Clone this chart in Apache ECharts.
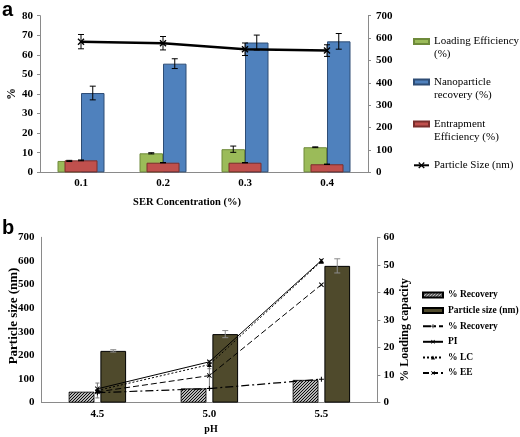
<!DOCTYPE html>
<html>
<head>
<meta charset="utf-8">
<script src="https://cdn.jsdelivr.net/npm/echarts@6/dist/echarts.min.js"></script>
<style>html,body{margin:0;padding:0;background:#fff;}#c{width:520px;height:437px;}</style>
</head>
<body>
<div id="c"></div>
<script>
// ---------- Panel a data ----------
const catsA = ['0.1', '0.2', '0.3', '0.4'];
const loadingEff = [5.8, 9.7, 11.8, 12.8];
const loadingEffErr = [0.3, 0.3, 1.6, 0.2];
const npRecovery = [40.5, 55.5, 66.3, 66.9];
const npRecoveryErr = [3.5, 2.5, 3.8, 4.0];
const entrapEff = [6.1, 4.9, 4.9, 4.1];
const entrapEffErr = [0.2, 0.1, 0.1, 0.1];
const particleSizeA = [584, 577, 550, 544];
const particleSizeAErr = [32, 30, 28, 26];
const yTicksA = [0, 10, 20, 30, 40, 50, 60, 70, 80];
const yTicksA2 = [0, 100, 200, 300, 400, 500, 600, 700];

// ---------- Panel b data ----------
const catsB = ['4.5', '5.0', '5.5'];
const recoveryBar = [46, 60, 96];
const particleSizeB = [219, 290, 579];
const particleSizeBErr = [5, 15, 30];
const recoveryLine = [3.6, 5.1, 8.5];
const piLine = [5.0, 14.8, 51.6];
const lcLine = [4.4, 13.8, 51.3];
const lcLineErr = [2.7, 1.5, 0];
const eeLine = [3.9, 9.8, 42.8];
const eeLineErr = [0, 4.6, 0];

const SERIF = 'Liberation Serif';
const SANS = 'Liberation Sans';
const XMARK = 'path://M0,1.4L1.4,0L5,3.6L8.6,0L10,1.4L6.4,5L10,8.6L8.6,10L5,6.4L1.4,10L0,8.6L3.6,5Z';

// hatch pattern for % Recovery bars
const hatch = document.createElement('canvas');
hatch.width = 3; hatch.height = 3;
(function () {
  const g = hatch.getContext('2d');
  g.fillStyle = '#fff'; g.fillRect(0, 0, 3, 3);
  g.strokeStyle = '#000'; g.lineWidth = 1.1;
  g.beginPath();
  g.moveTo(0, 3); g.lineTo(3, 0);
  g.moveTo(-1, 1); g.lineTo(1, -1);
  g.moveTo(2, 4); g.lineTo(4, 2);
  g.stroke();
})();

function errSeries(xIdx, yIdx, vals, errs, offset, color, capHalf) {
  return {
    type: 'custom', xAxisIndex: xIdx, yAxisIndex: yIdx, z: 5, silent: true,
    data: vals.map((v, i) => [i, v, errs[i]]),
    encode: { x: 0, y: 1 },
    renderItem: function (params, api) {
      const i = api.value(0), v = api.value(1), e = api.value(2);
      if (!e) return null;
      const hi = api.coord([i, v + e]), lo = api.coord([i, v - e]);
      const x = hi[0] + offset;
      const st = { stroke: color, lineWidth: 1 };
      return {
        type: 'group', children: [
          { type: 'line', shape: { x1: x, y1: hi[1], x2: x, y2: lo[1] }, style: st },
          { type: 'line', shape: { x1: x - capHalf, y1: hi[1], x2: x + capHalf, y2: hi[1] }, style: st },
          { type: 'line', shape: { x1: x - capHalf, y1: lo[1], x2: x + capHalf, y2: lo[1] }, style: st }
        ]
      };
    }
  };
}

const axisLineGray = { show: true, lineStyle: { color: '#8a8a8a', width: 1 } };
const tickLbl = { fontFamily: SERIF, fontWeight: 'bold', fontSize: 11, color: '#000' };

const BW_A = 23.5, BW_B = 25.7, GAP_B = 6;
const legA = { fontFamily: SERIF, fontSize: 11, lineHeight: 13, color: '#000' };

const option = {
  animation: false,
  backgroundColor: '#fff',
  grid: [
    { left: 40, top: 15.7, width: 328, height: 156.6 },
    { left: 41.4, top: 237.3, width: 336, height: 165.3 }
  ],
  xAxis: [
    { gridIndex: 0, type: 'category', data: catsA, axisLine: axisLineGray, axisTick: { show: false },
      axisLabel: Object.assign({ margin: 5 }, tickLbl) },
    { gridIndex: 0, type: 'category', data: catsA, show: false },
    { gridIndex: 1, type: 'category', data: catsB, axisLine: axisLineGray, axisTick: { show: false },
      axisLabel: Object.assign({ margin: 6 }, tickLbl) }
  ],
  yAxis: [
    { gridIndex: 0, type: 'value', position: 'left', min: yTicksA[0], max: yTicksA[yTicksA.length - 1], interval: 10,
      axisLine: axisLineGray, axisTick: { show: true, length: 3, lineStyle: { color: '#8a8a8a' } },
      splitLine: { show: false }, axisLabel: Object.assign({ margin: 7 }, tickLbl) },
    { gridIndex: 0, type: 'value', position: 'right', min: yTicksA2[0], max: yTicksA2[yTicksA2.length - 1], interval: 100,
      axisLine: axisLineGray, axisTick: { show: true, length: 3, lineStyle: { color: '#8a8a8a' } },
      splitLine: { show: false }, axisLabel: Object.assign({ margin: 8 }, tickLbl) },
    { gridIndex: 1, type: 'value', position: 'left', min: 0, max: 700, interval: 100,
      axisLine: axisLineGray, axisTick: { show: false },
      splitLine: { show: false }, axisLabel: Object.assign({ margin: 7 }, tickLbl) },
    { gridIndex: 1, type: 'value', position: 'right', min: 0, max: 60, interval: 10,
      axisLine: axisLineGray, axisTick: { show: true, length: 3, lineStyle: { color: '#8a8a8a' } },
      splitLine: { show: false }, axisLabel: Object.assign({ margin: 6 }, tickLbl) }
  ],
  legend: [
    { data: [{ name: 'Loading Efficiency (%)', icon: 'rect' }], left: 413, top: 22, padding: 0, orient: 'vertical',
      itemWidth: 15, itemHeight: 5, formatter: () => ' \nLoading Efficiency\n(%)', textStyle: legA },
    { data: [{ name: 'Nanoparticle recovery (%)', icon: 'rect' }], left: 413, top: 62.5, padding: 0, orient: 'vertical',
      itemWidth: 15, itemHeight: 5, formatter: () => ' \nNanoparticle\nrecovery (%)', textStyle: legA },
    { data: [{ name: 'Entrapment Efficiency (%)', icon: 'rect' }], left: 413, top: 104.5, padding: 0, orient: 'vertical',
      itemWidth: 15, itemHeight: 5, formatter: () => ' \nEntrapment\nEfficiency (%)', textStyle: legA },
    { data: ['Particle Size (nm)'], left: 413, top: 158.8, padding: 0, orient: 'vertical',
      itemWidth: 15, itemHeight: 8, textStyle: legA },
    { data: [{ name: '% Recovery', icon: 'rect' }, { name: 'Particle size (nm)', icon: 'rect' }, '% Recovery ', 'PI', '% LC', '% EE'],
      left: 422, top: 289, padding: 0, orient: 'vertical', itemGap: 3.6,
      itemWidth: 20, itemHeight: 5,
      textStyle: { fontFamily: SERIF, fontSize: 9.5, fontWeight: 'bold', lineHeight: 12, color: '#000' } }
  ],
  series: [
    // ----- panel a -----
    { name: 'Loading Efficiency (%)', type: 'bar', xAxisIndex: 0, yAxisIndex: 0, data: loadingEff,
      barWidth: BW_A, barGap: '0%',
      itemStyle: { color: '#9BBB59', borderColor: '#6E8A3A', borderWidth: 1 } },
    { name: 'Nanoparticle recovery (%)', type: 'bar', xAxisIndex: 0, yAxisIndex: 0, data: npRecovery,
      barWidth: BW_A, barGap: '0%',
      itemStyle: { color: '#4F81BD', borderColor: '#2E4D75', borderWidth: 1 } },
    { name: 'Entrapment Efficiency (%)', type: 'bar', xAxisIndex: 1, yAxisIndex: 0, data: entrapEff,
      barWidth: 33,
      itemStyle: { color: '#C0504D', borderColor: '#7A2E2C', borderWidth: 1 } },
    errSeries(0, 0, loadingEff, loadingEffErr, -BW_A / 2, '#000', 3),
    errSeries(0, 0, npRecovery, npRecoveryErr, BW_A / 2, '#000', 3),
    errSeries(1, 0, entrapEff, entrapEffErr, 0, '#000', 3),
    { name: 'Particle Size (nm)', type: 'line', xAxisIndex: 0, yAxisIndex: 1, data: particleSizeA, z: 6,
      symbol: XMARK, symbolSize: 7, lineStyle: { color: '#000', width: 2.5 },
      itemStyle: { color: '#000' } },
    errSeries(0, 1, particleSizeA, particleSizeAErr, 0, '#000', 3),
    // ----- panel b -----
    { name: '% Recovery', type: 'bar', xAxisIndex: 2, yAxisIndex: 2, data: recoveryBar,
      barWidth: BW_B, barGap: (GAP_B / BW_B * 100).toFixed(1) + '%',
      itemStyle: { color: { image: hatch, repeat: 'repeat' }, borderColor: '#000', borderWidth: 0.8 } },
    { name: 'Particle size (nm)', type: 'bar', xAxisIndex: 2, yAxisIndex: 2, data: particleSizeB,
      barWidth: BW_B, barGap: (GAP_B / BW_B * 100).toFixed(1) + '%',
      itemStyle: { color: '#4F4A2C', borderColor: '#000', borderWidth: 1 } },
    errSeries(2, 2, particleSizeB, particleSizeBErr, (BW_B + GAP_B) / 2, '#8a8a8a', 3),
    { name: '% Recovery ', type: 'line', xAxisIndex: 2, yAxisIndex: 3, data: recoveryLine, z: 6,
      symbol: 'path://M4,0L6,0L6,4L10,4L10,6L6,6L6,10L4,10L4,6L0,6L0,4L4,4Z', symbolSize: 5,
      lineStyle: { color: '#000', width: 1.2, type: [8, 3, 2, 3] }, itemStyle: { color: '#000' } },
    { name: 'PI', type: 'line', xAxisIndex: 2, yAxisIndex: 3, data: piLine, z: 6,
      symbol: XMARK, symbolSize: 5,
      lineStyle: { color: '#000', width: 1 }, itemStyle: { color: '#000' } },
    { name: '% LC', type: 'line', xAxisIndex: 2, yAxisIndex: 3, data: lcLine, z: 6,
      symbol: 'triangle', symbolSize: 5,
      lineStyle: { color: '#000', width: 1, type: [2, 2] }, itemStyle: { color: '#000' } },
    { name: '% EE', type: 'line', xAxisIndex: 2, yAxisIndex: 3, data: eeLine, z: 6,
      symbol: XMARK, symbolSize: 5,
      lineStyle: { color: '#000', width: 1, type: [6, 3] }, itemStyle: { color: '#000' } },
    errSeries(2, 3, lcLine, lcLineErr, 0, '#777', 2),
    errSeries(2, 3, eeLine, eeLineErr, 0, '#777', 2)
  ],
  graphic: [
    { type: 'text', x: 2, y: 10, style: { text: 'a', font: 'bold 20px ' + SANS, fill: '#000', align: 'left', verticalAlign: 'middle' } },
    { type: 'text', x: 2, y: 228, style: { text: 'b', font: 'bold 20px ' + SANS, fill: '#000', align: 'left', verticalAlign: 'middle' } },
    { type: 'text', x: 12, y: 94, rotation: Math.PI / 2, style: { text: '%', font: 'bold 12px ' + SERIF, fill: '#000', align: 'center', verticalAlign: 'middle' } },
    { type: 'text', x: 187, y: 202, style: { text: 'SER Concentration (%)', font: 'bold 10.5px ' + SERIF, fill: '#000', align: 'center', verticalAlign: 'middle' } },
    { type: 'text', x: 14, y: 316, rotation: Math.PI / 2, style: { text: 'Particle size (nm)', font: 'bold 13px ' + SERIF, fill: '#000', align: 'center', verticalAlign: 'middle' } },
    { type: 'text', x: 211, y: 429, style: { text: 'pH', font: 'bold 10px ' + SERIF, fill: '#000', align: 'center', verticalAlign: 'middle' } },
    { type: 'text', x: 405, y: 330, rotation: Math.PI / 2, style: { text: '% Loading capacity', font: 'bold 12px ' + SERIF, fill: '#000', align: 'center', verticalAlign: 'middle' } }
  ]
};

const chart = echarts.init(document.getElementById('c'), null, { renderer: 'canvas' });
chart.setOption(option);
</script>
</body>
</html>
